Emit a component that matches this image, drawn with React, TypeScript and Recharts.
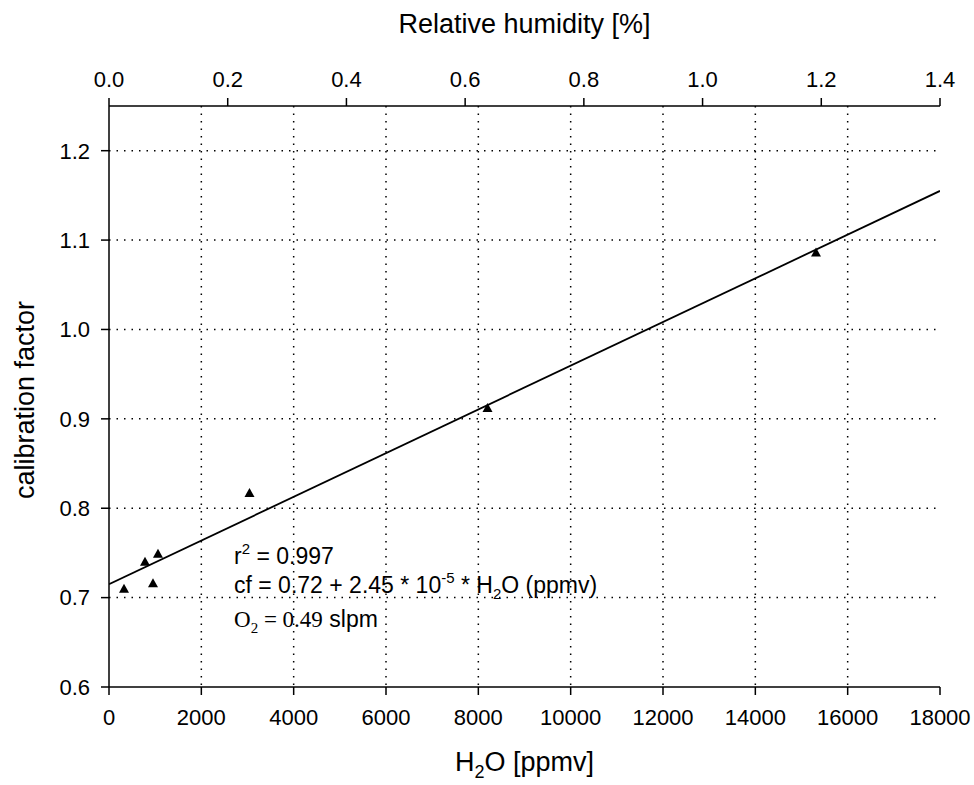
import {
  ComposedChart,
  Scatter,
  XAxis,
  YAxis,
  CartesianGrid,
  Label,
  ReferenceDot,
} from "recharts";

const SANS = "'Liberation Sans', Arial, sans-serif";
const SERIF = "'Liberation Serif', 'Times New Roman', serif";

// measured points
const h2oPpmv = [325, 780, 953, 1061, 3043, 8199, 15314];
const calFactor = [0.71, 0.74, 0.716, 0.749, 0.817, 0.912, 1.086];

// linear fit, drawn through its two ends
const fitH2o = [0, 18000];
const fitCf = [0.715, 1.155];

const h2oTicks = [0, 2000, 4000, 6000, 8000, 10000, 12000, 14000, 16000, 18000];
const rhTicks = [0, 0.2, 0.4, 0.6, 0.8, 1.0, 1.2, 1.4];
const cfTicks = [0.6, 0.7, 0.8, 0.9, 1.0, 1.1, 1.2];

const points = h2oPpmv.map((x, i) => ({ x, y: calFactor[i] }));
const fitLine = fitH2o.map((x, i) => ({ x, y: fitCf[i] }));
// invisible series so the top (relative humidity) axis gets a scale
const rhAnchor = [rhTicks[0], rhTicks[rhTicks.length - 1]].map((rh) => ({ rh, y: cfTicks[0] }));

const Triangle = (props: any) => {
  const { cx, cy } = props;
  if (cx == null || cy == null) return null;
  return (
    <polygon
      points={`${cx},${cy - 5} ${cx - 5},${cy + 4} ${cx + 5},${cy + 4}`}
      fill="#000"
    />
  );
};

const tickStyle = { fontSize: 22, fill: "#000", fontFamily: SANS };

const Annotation = (props: any) => {
  const { viewBox } = props;
  const x = viewBox.x;
  const y = viewBox.y;
  return (
    <g fill="#000">
      <text x={x} y={y} fontSize={23} fontFamily={SANS}>
        r
        <tspan dy={-10} fontSize={15}>2</tspan>
        <tspan dy={10}> = 0.997</tspan>
      </text>
      <text x={x} y={y + 29} fontSize={23} fontFamily={SANS}>
        cf = 0.72 + 2.45 * 10
        <tspan dy={-10} fontSize={15}>-5</tspan>
        <tspan dy={10}> * H</tspan>
        <tspan dy={6} fontSize={15}>2</tspan>
        <tspan dy={-6}>O (ppmv)</tspan>
      </text>
      <text x={x} y={y + 63} fontSize={23}>
        <tspan fontFamily={SERIF}>O</tspan>
        <tspan fontFamily={SERIF} dy={6} fontSize={15}>2</tspan>
        <tspan fontFamily={SERIF} dy={-6}> = 0.49</tspan>
        <tspan fontFamily={SANS} fontSize={23}> slpm</tspan>
      </text>
    </g>
  );
};

const BottomTitle = (props: any) => {
  const { viewBox } = props;
  const cx = viewBox.x + viewBox.width / 2;
  return (
    <text x={cx} y={771} textAnchor="middle" fontSize={27} fontFamily={SANS} fill="#000">
      H
      <tspan dy={7} fontSize={18}>2</tspan>
      <tspan dy={-7}>O [ppmv]</tspan>
    </text>
  );
};

const TopTitle = (props: any) => {
  const { viewBox } = props;
  const cx = viewBox.x + viewBox.width / 2;
  return (
    <text x={cx} y={33} textAnchor="middle" fontSize={27} fontFamily={SANS} fill="#000">
      Relative humidity [%]
    </text>
  );
};

const LeftTitle = () => (
  <text
    x={34}
    y={400}
    transform="rotate(-90 34 400)"
    textAnchor="middle"
    fontSize={27}
    fontFamily={SANS}
    fill="#000"
  >
    calibration factor
  </text>
);

export default function App() {
  return (
    <div style={{ position: "absolute", left: 0, top: 0, width: 974, height: 785, background: "#fff" }}>
      <ComposedChart
        width={974}
        height={785}
        margin={{ top: 56, right: 34, bottom: 48, left: 39 }}
      >
        <CartesianGrid
          xAxisId="bottom"
          yAxisId="left"
          stroke="#000"
          strokeWidth={1.5}
          strokeDasharray="1.5 6"
          verticalValues={h2oTicks.slice(1, -1)}
          horizontalValues={cfTicks.slice(1)}
        />
        <XAxis
          xAxisId="bottom"
          dataKey="x"
          type="number"
          orientation="bottom"
          domain={[0, 18000]}
          ticks={h2oTicks}
          allowDataOverflow
          height={50}
          stroke="#000"
          strokeWidth={1.5}
          tickSize={8}
          tickMargin={14}
          tick={tickStyle}
        >
          <Label content={<BottomTitle />} />
        </XAxis>
        <XAxis
          xAxisId="top"
          dataKey="rh"
          type="number"
          orientation="top"
          domain={[0, 1.4]}
          ticks={rhTicks}
          allowDataOverflow
          height={50}
          stroke="#000"
          strokeWidth={1.5}
          tickSize={8}
          tickMargin={11}
          tick={tickStyle}
          tickFormatter={(v: number) => v.toFixed(1)}
        >
          <Label content={<TopTitle />} />
        </XAxis>
        <YAxis
          yAxisId="left"
          dataKey="y"
          type="number"
          domain={[0.6, 1.25]}
          ticks={cfTicks}
          allowDataOverflow
          width={70}
          stroke="#000"
          strokeWidth={1.5}
          tickSize={8}
          tickMargin={11}
          tick={tickStyle}
          tickFormatter={(v: number) => v.toFixed(1)}
        >
          <Label content={<LeftTitle />} />
        </YAxis>
        <YAxis
          yAxisId="right"
          dataKey="y"
          type="number"
          orientation="right"
          domain={[0.6, 1.25]}
          allowDataOverflow
          width={0}
          stroke="#000"
          strokeWidth={1.5}
          tick={false}
          tickLine={false}
        />
        <Scatter
          xAxisId="top"
          yAxisId="right"
          data={rhAnchor}
          shape={() => null}
          isAnimationActive={false}
        />
        <Scatter
          xAxisId="bottom"
          yAxisId="left"
          data={fitLine}
          line={{ stroke: "#000", strokeWidth: 1.8 }}
          shape={() => null}
          isAnimationActive={false}
        />
        <Scatter
          xAxisId="bottom"
          yAxisId="left"
          data={points}
          shape={<Triangle />}
          isAnimationActive={false}
        />
        <ReferenceDot
          xAxisId="bottom"
          yAxisId="left"
          x={2708}
          y={0.7374}
          r={0}
          stroke="none"
          label={<Annotation />}
        />
      </ComposedChart>
    </div>
  );
}
